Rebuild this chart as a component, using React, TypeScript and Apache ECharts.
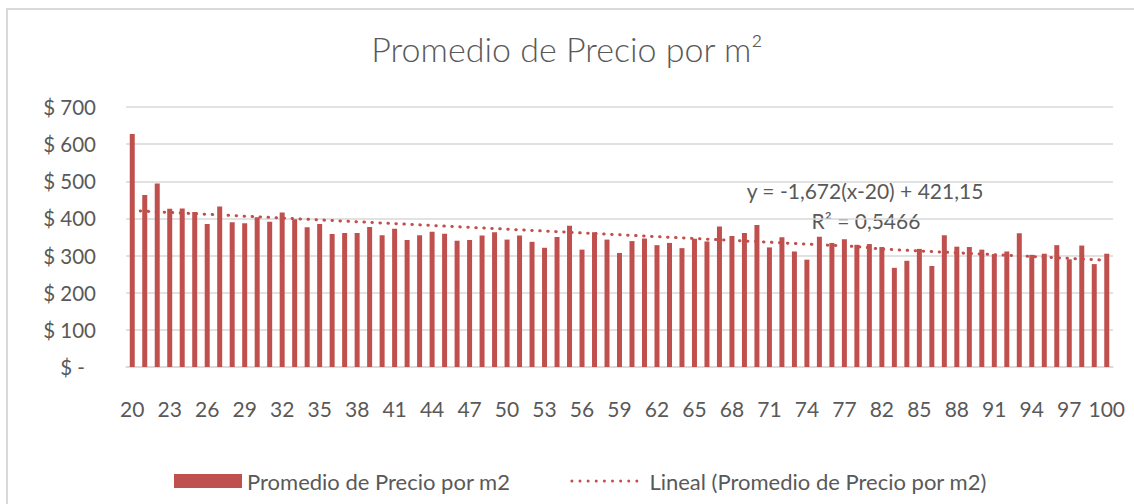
import React, { useEffect, useRef } from "react";
import * as echarts from "echarts";

const ages: number[] = [
  20, 21, 22, 23, 24, 25, 26, 27, 28, 29, 30, 31, 32, 33, 34, 35, 36, 37, 38, 39,
  40, 41, 42, 43, 44, 45, 46, 47, 48, 49, 50, 51, 52, 53, 54, 55, 56, 57, 58, 59,
  60, 61, 62, 63, 64, 65, 66, 67, 68, 69, 70, 71, 72, 73, 74, 75, 76, 77, 78, 80,
  82, 83, 84, 85, 86, 87, 88, 89, 90, 91, 92, 93, 94, 95, 96, 97, 98, 99, 100,
];

const avgPrice: number[] = [
  627, 463, 494, 426, 427, 417, 385, 432, 390, 387, 403, 391, 416, 398, 376, 385, 358, 361, 361, 377,
  355, 372, 342, 355, 364, 359, 340, 342, 354, 363, 343, 354, 337, 321, 350, 380, 316, 363, 343, 307,
  339, 346, 328, 334, 320, 345, 338, 378, 353, 361, 382, 322, 349, 311, 289, 351, 334, 344, 329, 331,
  323, 267, 286, 318, 272, 355, 324, 323, 316, 304, 311, 360, 302, 305, 328, 290, 327, 277, 305,
];

// Trendline shown on the chart: y = -1,672(x-20) + 421,15
const trendSlope = -1.672;
const trendIntercept = 421.15;
const trendOrigin = 20;

const yTicks: number[] = [0, 100, 200, 300, 400, 500, 600, 700];

const FONT = "Lato, 'Open Sans', sans-serif";
const TEXT = "#595959";
const RED = "#C0504D";
const GRID = "#D9D9D9";

const DOTS_ICON =
  "path://M0,1.5a1.5,1.5 0 1,0 3,0a1.5,1.5 0 1,0 -3,0z" +
  "M8,1.5a1.5,1.5 0 1,0 3,0a1.5,1.5 0 1,0 -3,0z" +
  "M16,1.5a1.5,1.5 0 1,0 3,0a1.5,1.5 0 1,0 -3,0z" +
  "M24,1.5a1.5,1.5 0 1,0 3,0a1.5,1.5 0 1,0 -3,0z" +
  "M32,1.5a1.5,1.5 0 1,0 3,0a1.5,1.5 0 1,0 -3,0z" +
  "M40,1.5a1.5,1.5 0 1,0 3,0a1.5,1.5 0 1,0 -3,0z" +
  "M48,1.5a1.5,1.5 0 1,0 3,0a1.5,1.5 0 1,0 -3,0z" +
  "M56,1.5a1.5,1.5 0 1,0 3,0a1.5,1.5 0 1,0 -3,0z" +
  "M64,1.5a1.5,1.5 0 1,0 3,0a1.5,1.5 0 1,0 -3,0z";

export default function App() {
  const ref = useRef<HTMLDivElement>(null);
  useEffect(() => {
    document.body.style.margin = "0";
    const chart = echarts.init(ref.current!, null, { renderer: "svg" });
    const cats = ages.map(String);
    const trend = ages.map((a) => +(trendIntercept + trendSlope * (a - trendOrigin)).toFixed(2));
    chart.setOption({
      animation: false,
      backgroundColor: "#fff",
      textStyle: { fontFamily: FONT },
      title: {
        text: "Promedio de Precio por m²",
        left: "center",
        top: 26,
        textStyle: { fontFamily: FONT, fontSize: 34, fontWeight: 300, color: TEXT },
      },
      grid: { left: 126, right: 21, top: 107, bottom: 137, containLabel: false },
      legend: {
        left: 169,
        top: 465,
        itemWidth: 68,
        itemHeight: 14,
        itemGap: 60,
        symbolKeepAspect: true,
        textStyle: { fontFamily: FONT, fontSize: 22, color: TEXT },
        data: [
          { name: "Promedio de Precio por m2", icon: "rect" },
          {
            name: "Lineal (Promedio de Precio por m2)",
            icon: DOTS_ICON,
            textStyle: { padding: [0, 0, 0, 6] },
          },
        ],
      },
      xAxis: {
        type: "category",
        data: cats,
        axisTick: { show: false },
        axisLine: { show: true, lineStyle: { color: GRID, width: 1.5 } },
        axisLabel: { interval: 2, margin: 31, fontSize: 21, color: TEXT, fontFamily: FONT },
        splitLine: { show: false },
      },
      yAxis: {
        type: "value",
        min: yTicks[0],
        max: yTicks[yTicks.length - 1],
        interval: 100,
        axisLine: { show: false },
        axisTick: { show: false },
        splitLine: { lineStyle: { color: GRID, width: 1.5 } },
        axisLabel: {
          margin: 30,
          fontSize: 20.5,
          color: TEXT,
          fontFamily: FONT,
          formatter: (v: number) => (v === 0 ? "{z|$ -}" : "$ " + v),
          rich: { z: { fontSize: 20.5, color: TEXT, fontFamily: FONT, padding: [0, 11, 0, 0] } },
        },
      },
      series: [
        {
          name: "Promedio de Precio por m2",
          type: "bar",
          data: avgPrice,
          barWidth: 5,
          itemStyle: { color: RED },
        },
        {
          name: "Lineal (Promedio de Precio por m2)",
          type: "line",
          data: trend,
          symbol: "none",
          z: 5,
          lineStyle: { color: RED, width: 3, type: [0.5, 7.5], cap: "round" },
          itemStyle: { color: RED },
        },
      ],
      graphic: [
        {
          type: "rect",
          shape: { x: 7, y: 9, width: 1200, height: 600 },
          style: { fill: "none", stroke: GRID, lineWidth: 2 },
          silent: true,
        },
        {
          type: "text",
          x: 865,
          y: 190,
          style: {
            text: "y = -1,672(x-20) + 421,15",
            fontFamily: FONT,
            fontSize: 21,
            fill: TEXT,
            align: "center",
            verticalAlign: "middle",
          },
        },
        {
          type: "text",
          x: 866,
          y: 220,
          style: {
            text: "R² = 0,5466",
            fontFamily: FONT,
            fontSize: 21,
            fill: TEXT,
            align: "center",
            verticalAlign: "middle",
          },
        },
      ],
    });
    return () => chart.dispose();
  }, []);
  return (
    <div
      ref={ref}
      style={{ position: "absolute", left: 0, top: 0, width: 1134, height: 504 }}
    />
  );
}
